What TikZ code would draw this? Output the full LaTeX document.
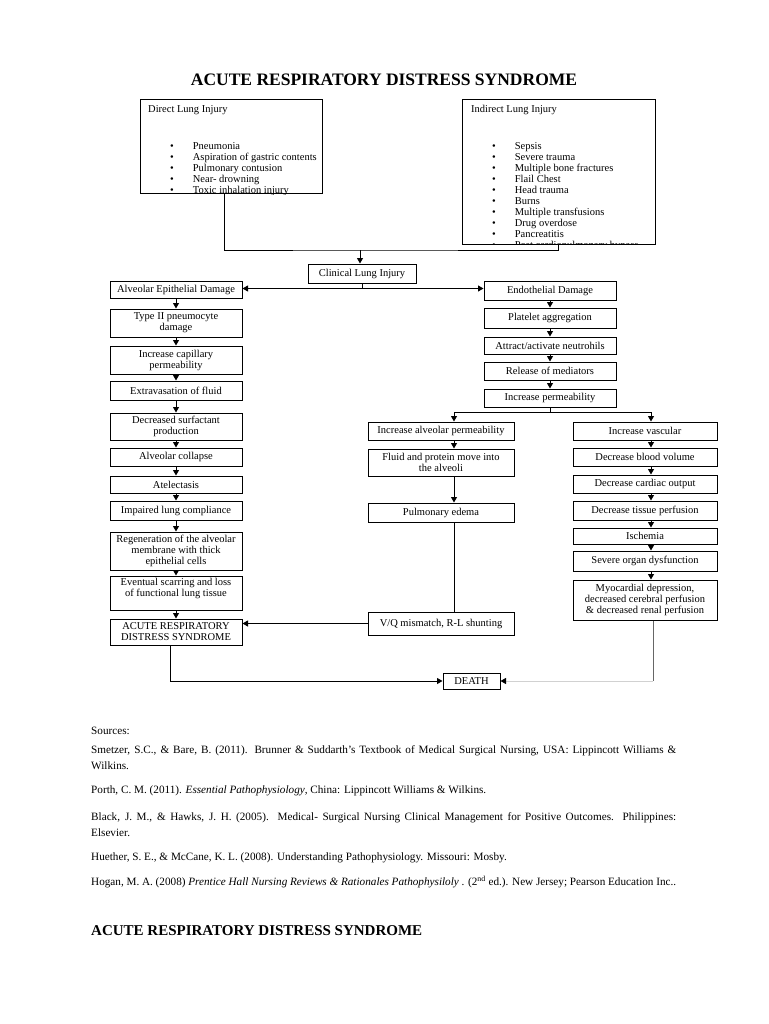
\documentclass[tikz,border=0pt]{standalone}
\usepackage{fontspec}
\setmainfont{Liberation Serif}
\usetikzlibrary{arrows.meta}
\newcommand{\boxfont}{\fontsize{10.5}{11}\selectfont}
\newcommand{\srcfont}{\fontsize{11.2}{16}\selectfont}

\begin{document}
\begin{tikzpicture}[x=1pt, y=-1pt,
    box/.style={draw, line width=1pt, align=center, inner sep=1pt, font=\boxfont},
    colL/.style={box, minimum width=132pt},
    colE/.style={box, minimum width=132pt},
    colM/.style={box, minimum width=146pt},
    colR/.style={box, minimum width=144pt},
    bigbox/.style={draw, line width=1pt, inner sep=0pt},
    arr/.style={line width=1pt, -{Triangle[length=5.5pt,width=6pt]}},
    link/.style={line width=1pt},
    src/.style={anchor=base west, inner sep=0pt, text width=585pt, align=justify, font=\srcfont}
]
    \useasboundingbox (0,0) rectangle (768,1024);
    \fill[white] (0,0) rectangle (768,1024);

    \node[font=\fontsize{17.5}{20}\selectfont\bfseries, anchor=base] (title) at (384,86) {ACUTE RESPIRATORY DISTRESS SYNDROME};

    % the two injury boxes
    \node[bigbox, minimum width=182pt, minimum height=94pt] (direct) at (231,147) {};
    \node[bigbox, minimum width=193pt, minimum height=144pt] (indirect) at (558.5,172) {};
    \begin{scope}
        \clip (direct.south west) rectangle (direct.north east);
        \node[anchor=base west, inner sep=0pt, font=\boxfont] (dtitle) at (148,113) {Direct Lung Injury};
        \node[anchor=base west, inner sep=0pt, font=\boxfont] (dlist) at (170,150) {\begin{tabular}[t]{@{}l@{\hspace{19pt}}l@{}}
            \textbullet & Pneumonia\\
            \textbullet & Aspiration of gastric contents\\
            \textbullet & Pulmonary contusion\\
            \textbullet & Near- drowning\\
            \textbullet & Toxic inhalation injury
        \end{tabular}};
    \end{scope}
    \begin{scope}
        \clip (indirect.south west) rectangle (indirect.north east);
        \node[anchor=base west, inner sep=0pt, font=\boxfont] (ititle) at (471,113) {Indirect Lung Injury};
        \node[anchor=base west, inner sep=0pt, font=\boxfont] (ilist) at (492,150) {\begin{tabular}[t]{@{}l@{\hspace{19pt}}l@{}}
            \textbullet & Sepsis\\
            \textbullet & Severe trauma\\
            \textbullet & Multiple bone fractures\\
            \textbullet & Flail Chest\\
            \textbullet & Head trauma\\
            \textbullet & Burns\\
            \textbullet & Multiple transfusions\\
            \textbullet & Drug overdose\\
            \textbullet & Pancreatitis\\
            \textbullet & Post cardiopulmonary bypass
        \end{tabular}};
    \end{scope}

    \node[box, minimum width=108pt, minimum height=19pt] (clinical) at (362,273.5) {Clinical Lung Injury};

    % left column
    \node[colL, minimum height=17pt] (aed) at (176,289.5) {Alveolar Epithelial Damage};
    \node[colL, minimum height=28pt] (type2) at (176,323) {Type II pneumocyte\\damage};
    \node[colL, minimum height=28pt] (capil) at (176,360) {Increase capillary\\permeability};
    \node[colL, minimum height=19pt] (extra) at (176,390.5) {Extravasation of fluid};
    \node[colL, minimum height=27pt] (surf) at (176,426.5) {Decreased surfactant\\production};
    \node[colL, minimum height=18pt] (collapse) at (176,457) {Alveolar collapse};
    \node[colL, minimum height=17pt] (atel) at (176,484.5) {Atelectasis};
    \node[colL, minimum height=19pt] (compl) at (176,510.5) {Impaired lung compliance};
    \node[colL, minimum height=38pt] (regen) at (176,551) {Regeneration of the alveolar\\membrane with thick\\epithelial cells};
    \node[colL, minimum height=34pt] (scar) at (176,593) {Eventual scarring and loss\\of functional lung tissue\\ };
    \node[colL, minimum height=26pt] (ards) at (176,632) {ACUTE RESPIRATORY\\DISTRESS SYNDROME};

    % endothelial column
    \node[colE, minimum height=19pt] (endo) at (550,290.5) {Endothelial Damage};
    \node[colE, minimum height=20pt] (plate) at (550,318) {Platelet aggregation};
    \node[colE, minimum height=17pt] (neutro) at (550,345.5) {Attract/activate neutrohils};
    \node[colE, minimum height=18pt] (media) at (550,371) {Release of mediators};
    \node[colE, minimum height=18pt] (perm) at (550,398) {Increase permeability};

    % middle column
    \node[colM, minimum height=18pt] (alvperm) at (441,431) {Increase alveolar permeability};
    \node[colM, minimum height=27pt] (fluid) at (441,462.5) {Fluid and protein move into\\the alveoli};
    \node[colM, minimum height=19pt] (edema) at (441,512.5) {Pulmonary edema};
    \node[colM, minimum height=23pt] (vq) at (441,623.5) {V/Q mismatch, R-L shunting};

    % right column
    \node[colR, minimum height=18pt] (vasc) at (645,431) {Increase vascular};
    \node[colR, minimum height=18pt] (blood) at (645,457) {Decrease blood volume};
    \node[colR, minimum height=18pt] (cardiac) at (645,484) {Decrease cardiac output};
    \node[colR, minimum height=19pt] (tissue) at (645,510.5) {Decrease tissue perfusion};
    \node[colR, minimum height=16pt] (isch) at (645,536) {Ischemia};
    \node[colR, minimum height=20pt] (organ) at (645,561) {Severe organ dysfunction};
    \node[colR, minimum height=40pt] (myo) at (645,600) {Myocardial depression,\\decreased cerebral perfusion\\\& decreased renal perfusion};

    \node[box, minimum width=57pt, minimum height=16pt] (death) at (471.5,681) {DEATH};

    % connectors
    \coordinate (join) at (360,250);
    \draw[link] ([xshift=-7pt]direct.south) |- (join) -| (indirect.south);
    \draw[arr] (join) -- (join |- clinical.north);
    \coordinate (split) at ([yshift=-5pt]clinical.south);
    \draw[link] (clinical.south) -- (split);
    \draw[arr] (split) -- (split -| aed.east);
    \draw[arr] (split) -- (split -| endo.west);

    \draw[arr] (aed) -- (type2);
    \draw[arr] (type2) -- (capil);
    \draw[arr] (capil) -- (extra);
    \draw[arr] (extra) -- (surf);
    \draw[arr] (surf) -- (collapse);
    \draw[arr] (collapse) -- (atel);
    \draw[arr] (atel) -- (compl);
    \draw[arr] (compl) -- (regen);
    \draw[arr] (regen) -- (scar);
    \draw[arr] (scar) -- (ards);

    \draw[arr] (endo) -- (plate);
    \draw[arr] (plate) -- (neutro);
    \draw[arr] (neutro) -- (media);
    \draw[arr] (media) -- (perm);
    \coordinate (fork) at ([yshift=-5pt]perm.south);
    \draw[link] (perm.south) -- (fork);
    \draw[arr] (fork) -| ([xshift=13pt]alvperm.north);
    \draw[arr] (fork) -| ([xshift=6pt]vasc.north);

    \draw[arr] ([xshift=13pt]alvperm.south) -- ([xshift=13pt]fluid.north);
    \draw[arr] ([xshift=13pt]fluid.south) -- ([xshift=13pt]edema.north);
    \draw[link] ([xshift=13pt]edema.south) -- ([xshift=13pt]vq.north);
    \draw[arr] (vq.west) -- (vq.west -| ards.east);

    \draw[arr] ([xshift=6pt]vasc.south) -- ([xshift=6pt]blood.north);
    \draw[arr] ([xshift=6pt]blood.south) -- ([xshift=6pt]cardiac.north);
    \draw[arr] ([xshift=6pt]cardiac.south) -- ([xshift=6pt]tissue.north);
    \draw[arr] ([xshift=6pt]tissue.south) -- ([xshift=6pt]isch.north);
    \draw[arr] ([xshift=6pt]isch.south) -- ([xshift=6pt]organ.north);
    \draw[arr] ([xshift=6pt]organ.south) -- ([xshift=6pt]myo.north);

    \draw[arr] ([xshift=-6pt]ards.south) |- (death.west);
    \coordinate (corner) at ([xshift=8pt]myo.south |- death.east);
    \draw[link, black!60] ([xshift=8pt]myo.south) -- (corner);
    \draw[line width=1pt, black!18, -{Triangle[length=5.5pt,width=6pt,color=black]}] (corner) -- (death.east);

    % sources
    \node[anchor=base west, inner sep=0pt, font=\srcfont] (sources) at (91,734) {Sources:};
    \node[src] (smeltzer) at (91,753) {Smetzer, S.C., \& Bare, B. (2011). Brunner \& Suddarth's Textbook of Medical Surgical Nursing, USA: Lippincott Williams \&\linebreak Wilkins.};
    \node[src] (porth) at (91,793) {Porth, C. M. (2011). \textit{Essential Pathophysiology}, China: Lippincott Williams \& Wilkins.};
    \node[src] (black) at (91,820) {Black, J. M., \& Hawks, J. H. (2005). Medical- Surgical Nursing Clinical Management for Positive Outcomes. Philippines:\linebreak Elsevier.};
    \node[src] (huether) at (91,860) {Huether, S. E., \& McCane, K. L. (2008). Understanding Pathophysiology. Missouri: Mosby.};
    \node[src] (hogan) at (91,885) {Hogan, M. A. (2008) \textit{Prentice Hall Nursing Reviews \& Rationales Pathophysiloly} . (2\textsuperscript{nd} ed.). New Jersey; Pearson Education Inc..};

    \node[font=\fontsize{15}{18}\selectfont\bfseries, anchor=base west, inner sep=0pt] (title2) at (91,935) {ACUTE RESPIRATORY DISTRESS SYNDROME};
\end{tikzpicture}
\end{document}
